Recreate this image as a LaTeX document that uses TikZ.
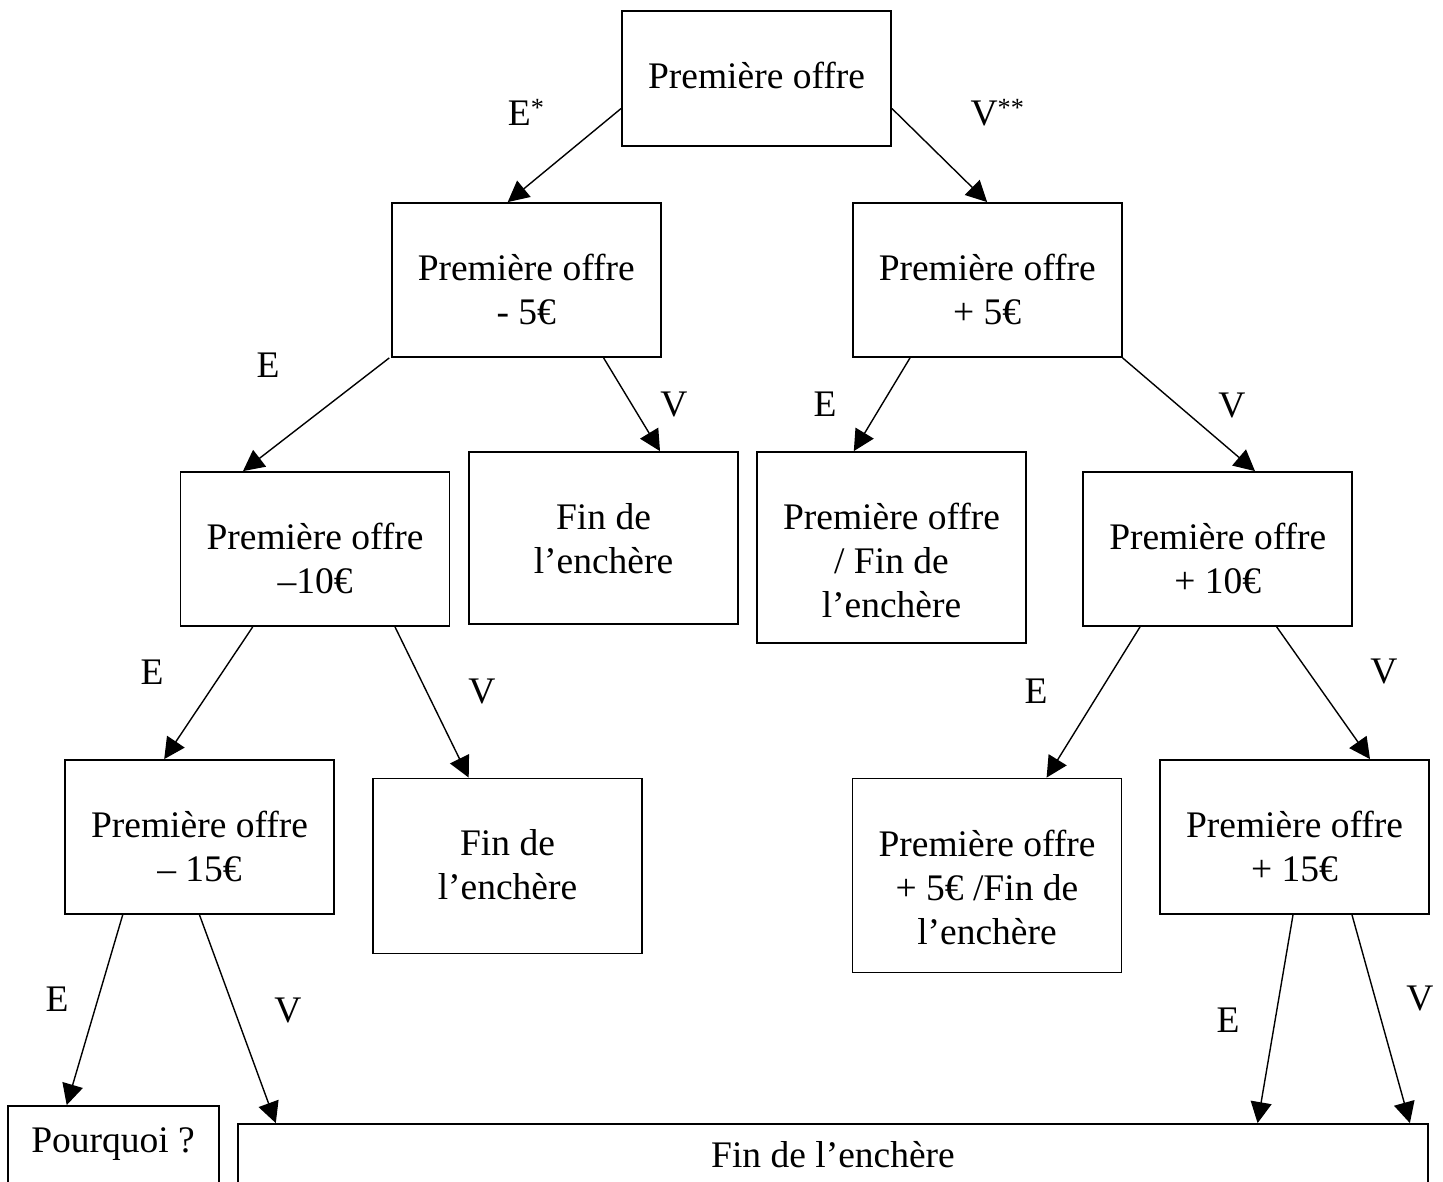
\documentclass[tikz,border=0pt]{standalone}
\usepackage{fontspec}
\setmainfont{Liberation Serif}
\usetikzlibrary{arrows.meta}
\tikzset{boite/.style = {draw, line width=1.8pt, minimum width=269, inner sep=0pt}}
\tikzset{texte/.style = {anchor=north, yshift=-#1, align=center, inner sep=0pt,
                         font=\fontsize{37.5}{44}\selectfont},
         texte/.default = 52pt}
\tikzset{etiq/.style = {inner sep=0pt, font=\fontsize{37.5}{44}\selectfont}}
\tikzset{fl/.style = {line width=1.4pt, -{Triangle[length=21pt,width=21pt]}}}

\begin{document}
\begin{tikzpicture}[x=1pt, y=-1pt]
      \useasboundingbox (0, 0) rectangle (1443, 1181);
      \clip (0, 0) rectangle (1443, 1181);

      % boites
      \node [boite, minimum height=134.5, label={[texte]north:Première offre}] (offre) at (756.5, 78.5) {};
      \node [boite, minimum height=154, label={[texte]north:{Première offre\\- 5€}}] (moins5) at (526.2, 280) {};
      \node [boite, minimum height=154, label={[texte]north:{Première offre\\+ 5€}}] (plus5) at (987.2, 280) {};
      \node [boite, minimum height=154, label={[texte]north:{Première offre\\–10€}}] (moins10) at (315, 549) {};
      \node [boite, minimum height=172, label={[texte]north:{Fin de\\l’enchère}}] (fin1) at (603.5, 538) {};
      \node [boite, minimum height=191, label={[texte]north:{Première offre\\/ Fin de\\l’enchère}}] (offrefin) at (891.5, 547.5) {};
      \node [boite, minimum height=154, label={[texte]north:{Première offre\\+ 10€}}] (plus10) at (1217.7, 549) {};
      \node [boite, minimum height=154, label={[texte]north:{Première offre\\– 15€}}] (moins15) at (199.5, 837) {};
      \node [boite, minimum height=175, label={[texte]north:{Fin de\\l’enchère}}] (fin2) at (507.5, 866) {};
      \node [boite, minimum height=194, label={[texte]north:{Première offre\\+ 5€ /Fin de\\l’enchère}}] (offrefin2) at (987, 875.5) {};
      \node [boite, minimum height=154, label={[texte]north:{Première offre\\+ 15€}}] (plus15) at (1294.5, 837) {};
      \node [boite, minimum width=211, minimum height=100, label={[texte=22pt]north:Pourquoi ?}] (pourquoi) at (113.1, 1156) {};
      \node [boite, minimum width=1190.6, minimum height=100, label={[texte=18pt]north:Fin de l’enchère}] (fin) at (833, 1174) {};

      % fleches
      \draw [fl] ([yshift=-30pt]offre.west) -- ([xshift=-18.5pt]moins5.north);
      \draw [fl] ([yshift=-30pt]offre.east) -- (plus5.north);
      \draw [fl] ([xshift=-1.5pt]moins5.south west) -- ([xshift=-72pt]moins10.north);
      \draw [fl] ([xshift=77.4pt]moins5.south) -- ([xshift=56.5pt]fin1.north);
      \draw [fl] ([xshift=-77.2pt]plus5.south) -- ([xshift=-37.7pt]offrefin.north);
      \draw [fl] (plus5.south east) -- ([xshift=37.3pt]plus10.north);
      \draw [fl] ([xshift=-62.3pt]moins10.south) -- ([xshift=-35.3pt]moins15.north);
      \draw [fl] ([xshift=80pt]moins10.south) -- ([xshift=-38.8pt]fin2.north);
      \draw [fl] ([xshift=-77.7pt]plus10.south) -- ([xshift=59.6pt]offrefin2.north);
      \draw [fl] ([xshift=59pt]plus10.south) -- ([xshift=75.5pt]plus15.north);
      \draw [fl] ([xshift=-76.8pt]moins15.south) -- ([xshift=-46.4pt]pourquoi.north);
      \draw [fl] (moins15.south) -- ([xshift=39pt]fin.north west);
      \draw [fl] ([xshift=-1.5pt]plus15.south) -- ([xshift=-171.6pt]fin.north east);
      \draw [fl] ([xshift=57.5pt]plus15.south) -- ([xshift=-19.3pt]fin.north east);

      % etiquettes
      \node [etiq, anchor=base west] (e0) at (507.7, 125.8) {E\textsuperscript{*}};
      \node [etiq, anchor=base west] (v0) at (970.4, 125.8) {V\textsuperscript{**}};
      \node [etiq] (e1) at (268, 365) {E};
      \node [etiq] (v1) at (674, 404) {V};
      \node [etiq] (e2) at (825, 404) {E};
      \node [etiq] (v2) at (1232, 405) {V};
      \node [etiq] (e3) at (152, 672) {E};
      \node [etiq] (v3) at (482, 691) {V};
      \node [etiq] (e4) at (1036, 691) {E};
      \node [etiq] (v4) at (1384, 671) {V};
      \node [etiq] (e5) at (57, 999) {E};
      \node [etiq] (v5) at (288, 1010) {V};
      \node [etiq] (e6) at (1228, 1020) {E};
      \node [etiq] (v6) at (1420, 998) {V};
\end{tikzpicture}
\end{document}
